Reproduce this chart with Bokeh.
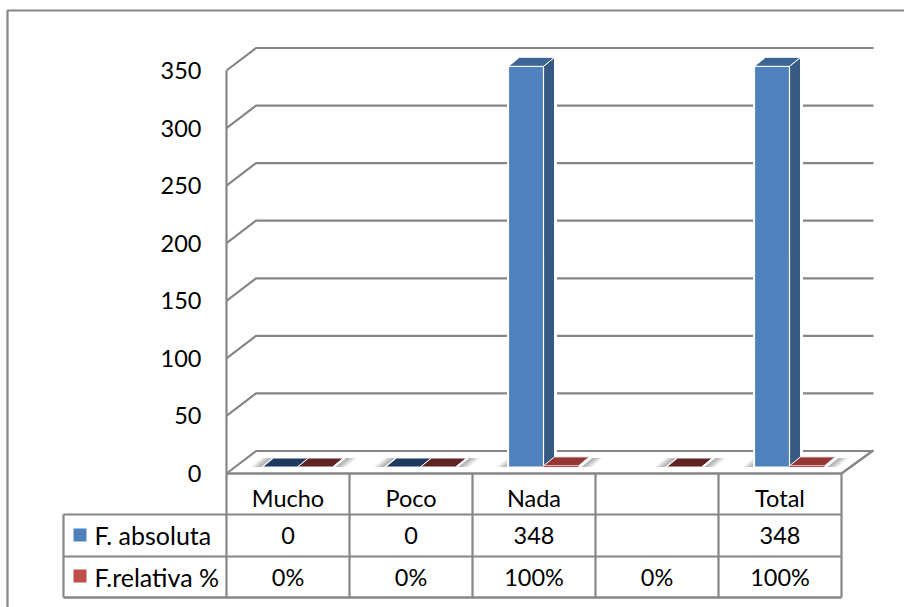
from bokeh.plotting import figure
from bokeh.models import Range1d, LinearAxis, FixedTicker, ColumnDataSource
from bokeh.core.properties import value
from bokeh.embed import file_html
from bokeh.resources import INLINE

# ---- data
categories = ["Mucho", "Poco", "Nada", "", "Total"]
f_absoluta = [0, 0, 348, None, 348]
f_relativa = [0, 0, 1, 0, 1]          # 100% plotted as 1
row_absoluta = ["0", "0", "348", "", "348"]
row_relativa = ["0%", "0%", "100%", "0%", "100%"]
row_names = ["F. absoluta", "F.relativa %"]
y_ticks = [0, 50, 100, 150, 200, 250, 300, 350]

# ---- layout: pixel geometry of the page
FONT = "Lato"
FS = "23.5px"
FS_LEGEND = "25px"
GREY = "#868686"
FRAME_L, ORIGIN_Y, CAT_W, PX_PER_UNIT = 226, 473, 123, 403 / 350
W, H = 904, 607


def X(px):
    return (px - FRAME_L) / CAT_W


def Y(py):
    return (ORIGIN_Y - py) / PX_PER_UNIT


dx = lambda px: px / CAT_W
dy = lambda px: px / PX_PER_UNIT

p = figure(width=W, height=H, output_backend="svg", toolbar_location=None,
           x_range=Range1d(X(0), X(W)), y_range=Range1d(Y(H), Y(0)),
           x_axis_location=None, y_axis_location=None,
           min_border_left=0, min_border_right=0, min_border_top=0, min_border_bottom=0,
           outline_line_color=None, background_fill_color="white", border_fill_color="white")
p.grid.visible = False

ax = LinearAxis(fixed_location=0, ticker=FixedTicker(ticks=y_ticks), bounds=(0, 350))
ax.axis_line_color = GREY
ax.axis_line_width = 2.2
ax.major_tick_line_color = None
ax.minor_tick_line_color = None
ax.major_label_standoff = 19
ax.major_label_text_font = FONT
ax.major_label_text_font_size = FS
ax.major_label_text_color = "black"
p.add_layout(ax, "left")

# outer border (its right and bottom sides lie beyond the canvas)
p.line([X(W + 30), X(7), X(7)], [Y(10), Y(10), Y(H + 40)], line_color=GREY, line_width=2.2)

# walls and floor
WALL_DX, WALL_DY = dx(29.5), dy(22.5)
N = len(categories)
for t in y_ticks:
    p.line([0, WALL_DX, X(873)], [t, t + WALL_DY, t + WALL_DY], line_color=GREY, line_width=2.2)
p.line([0, N, N + WALL_DX * 1.05, X(873)], [0, 0, WALL_DY, WALL_DY], line_color=GREY, line_width=2.5)

# bars
BAR_W = dx(35)
OFF_X, OFF_Y = dx(9.5), dy(6.5)
D_X, D_Y = dx(11), dy(9)
BLUE, BLUE_TOP, BLUE_SIDE, BLUE_FLAT = "#4f81bd", "#3a6595", "#375a85", "#1f3a5f"
RED, RED_TOP, RED_FLAT = "#c0504d", "#953735", "#5f2322"


def para(x0, x1, y0):
    return [x0, x1, x1 + D_X, x0 + D_X], [y0, y0, y0 + D_Y, y0 + D_Y]


def add_shadow(xa, xb, y0, dark_at_b):
    steps = 7
    for k in range(steps):
        a = xa + (xb - xa) * k / steps
        b = xa + (xb - xa) * (k + 1) / steps
        f = (k + 0.5) / steps
        xs, ys = para(a, b, y0)
        p.patch(xs, ys, fill_color="#7f7f7f", fill_alpha=0.75 * (f if dark_at_b else 1 - f), line_color=None)


for i, (a, r) in enumerate(zip(f_absoluta, f_relativa)):
    mid = i + 0.5 + OFF_X
    base = OFF_Y
    left = mid - BAR_W if a is not None else mid
    right = mid + BAR_W
    add_shadow(left - dx(12.5), left - dx(1.5), base, True)
    add_shadow(right + dx(3), right + dx(14), base, False)

    if a is not None:
        x0, x1 = mid - BAR_W, mid
        top = base + a
        tall = a > 0
        if tall:
            p.patch([x0 - dx(1), x1 + dx(1), x1 + D_X + dx(2), x1 + D_X + dx(2), x0 + D_X, x0 - dx(1)],
                    [base - dy(1), base - dy(1), base + D_Y, top + D_Y + dy(2), top + D_Y + dy(2), top + dy(1)],
                    fill_color="white", line_color="white", line_width=1)
            p.patch([x1, x1 + D_X, x1 + D_X, x1], [base, base + D_Y, top + D_Y, top],
                    fill_color=BLUE_SIDE, line_color="white", line_width=1)
            p.patch([x0, x1, x1, x0], [base, base, top, top],
                    fill_color=BLUE, line_color="white", line_width=1.2)
        xs, ys = para(x0, x1, top)
        p.patch(xs, ys, fill_color=BLUE_TOP if tall else BLUE_FLAT, line_color="white", line_width=1)

    x0, x1 = mid, mid + BAR_W
    top = base + r
    xs, ys = para(x0, x1, top)
    p.patch(xs, ys, fill_color=RED_TOP if r > 0 else RED_FLAT, line_color="white", line_width=1)
    if r > 0:
        p.patch([x0, x1, x1, x0], [base, base, top, top], fill_color=RED, line_color=None)

# data table
TABLE_L = X(63)
for i in range(N + 1):
    p.line([i, i], [0, Y(597)], line_color=GREY, line_width=2.2)
p.line([TABLE_L, TABLE_L], [Y(514), Y(597)], line_color=GREY, line_width=2.2)
p.line([TABLE_L, N], [Y(514), Y(514)], line_color=GREY, line_width=2.2)
p.line([TABLE_L, N], [Y(556), Y(556)], line_color=GREY, line_width=2.2)
p.line([TABLE_L, N], [Y(597), Y(597)], line_color=GREY, line_width=2.5)

for name, col, top_px, py in zip(row_names, [BLUE, RED], [528, 569], [534, 576]):
    p.quad(left=[X(73)], right=[X(86)], top=[Y(top_px)], bottom=[Y(top_px + 13)], fill_color=col, line_color=None)
    p.text([X(94)], [Y(py)], text=[name], text_font=value(FONT), text_font_size=value(FS_LEGEND),
           text_baseline="middle", text_align="left", text_color="black")

centers = [i + 0.5 for i in range(N)]
for labels, py in zip([categories, row_absoluta, row_relativa], [497, 535, 576]):
    src = ColumnDataSource(dict(x=centers, y=[Y(py)] * N, t=labels))
    p.text("x", "y", text="t", source=src, text_align="center", text_baseline="middle",
           text_font=value(FONT), text_font_size=value(FS), text_color="black")

open("out.html", "w").write(file_html(p, INLINE))
